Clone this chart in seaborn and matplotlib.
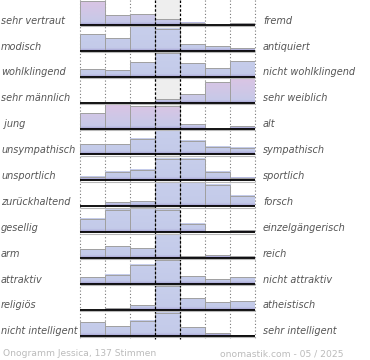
import numpy as np
import matplotlib
matplotlib.use("Agg")
import matplotlib.pyplot as plt
import seaborn as sns
from matplotlib.colors import to_rgb

sns.set_theme(style="white")
plt.rcParams['font.family'] = ['DejaVu Sans']

# ---------------- data ----------------
left_labels = ["sehr vertraut", "modisch", "wohlklingend", "sehr männlich", " jung",
               "unsympathisch", "unsportlich", "zurückhaltend", "gesellig", "arm",
               "attraktiv", "religiös", "nicht intelligent"]
right_labels = ["fremd", "antiquiert", "nicht wohlklingend", "sehr weiblich", "alt",
                "sympathisch", "sportlich", "forsch", "einzelgängerisch", "reich",
                "nicht attraktiv", "atheistisch", "sehr intelligent"]
bins = ["1", "2", "3", "4", "5", "6", "7"]

v_vertraut = [24.0, 10.0, 10.7, 6.0, 2.3, 0.0, 1.7]
v_modisch = [17.0, 12.6, 24.6, 22.3, 7.0, 4.6, 2.6]
v_wohlklingend = [8.0, 6.3, 15.0, 24.0, 14.0, 9.0, 15.6]
v_maennlich = [0.0, 0.0, 0.0, 4.0, 9.0, 21.0, 25.0]
v_jung = [15.7, 24.7, 22.3, 22.3, 4.7, 0.0, 3.0]
v_sympathisch = [10.0, 10.0, 15.7, 24.0, 13.3, 7.3, 6.3]
v_sportlich = [3.4, 8.4, 10.7, 21.4, 21.4, 8.4, 2.4]
v_forsch = [0.0, 4.0, 5.0, 24.0, 24.0, 21.3, 10.6]
v_gesellig = [13.3, 22.3, 25.0, 22.3, 8.3, 0.0, 2.0]
v_arm = [8.6, 12.0, 10.0, 23.6, 1.6, 2.6, 1.6]
v_attraktiv = [6.7, 9.3, 19.3, 24.3, 7.7, 5.0, 6.7]
v_religioes = [0.0, 1.7, 5.0, 23.4, 11.4, 8.0, 9.0]
v_intelligent = [13.4, 10.0, 15.0, 23.0, 9.0, 2.4, 1.0]

rows = [v_vertraut, v_modisch, v_wohlklingend, v_maennlich, v_jung, v_sympathisch,
        v_sportlich, v_forsch, v_gesellig, v_arm, v_attraktiv, v_religioes, v_intelligent]

footer_left = "Onogramm Jessica, 137 Stimmen"
footer_right = "onomastik.com - 05 / 2025"

# ---------------- style ----------------
W, H = 370, 360
X0, X1 = 80, 255
BASE0, ROWH = 25.0, 25.89
pink_rows = {0, 3, 4}
c_blue = np.array(to_rgb("#c3cae9"))
c_blue_top = np.array(to_rgb("#c8cfec"))
c_pink = np.array(to_rgb("#dcc4e4"))
c_purple = np.array(to_rgb("#a39cd0"))

fig = plt.figure(figsize=(W / 100, H / 100), dpi=100)
fig.patch.set_facecolor("white")

# background axes (pixel coords)
ax_bg = fig.add_axes([0, 0, 1, 1])
ax_bg.set_xlim(0, W)
ax_bg.set_ylim(H, 0)
ax_bg.axis("off")
last_base = BASE0 + ROWH * (len(rows) - 1)
ax_bg.add_patch(plt.Rectangle((155, 0), 25, last_base, color="#eeeeee", lw=0))
for xv in [80, 105, 130, 205, 230, 255]:
    ax_bg.plot([xv, xv], [0, last_base + 3], color="#777777", lw=0.8,
               linestyle=(0, (1, 2)))

# rows
for i, vals in enumerate(rows):
    base = BASE0 + ROWH * i
    ax = fig.add_axes([X0 / W, 1 - base / H, (X1 - X0) / W, ROWH / H])
    ax.patch.set_alpha(0)
    sns.barplot(x=bins, y=vals, ax=ax, width=1.0, color="#c3cae9",
                saturation=1, errorbar=None)
    for p in list(ax.patches):
        h = p.get_height()
        x0 = p.get_x()
        w = p.get_width()
        if h <= 0.05:
            p.set_visible(False)
            continue
        n = max(int(h * 6), 2)
        ys = np.linspace(h, 0, n)
        img = np.zeros((n, 1, 3))
        for k, yy in enumerate(ys):
            if i in pink_rows:
                t = min(yy / ROWH, 1.0)
                c = c_blue * (1 - t) + c_pink * t
            else:
                t = min(yy / ROWH, 1.0)
                c = c_blue * (1 - t) + c_blue_top * t
            if yy < 3.0:
                s = 1 - yy / 3.0
                c = c * (1 - s) + c_purple * s
            img[k, 0, :] = c
        ax.imshow(img, extent=[x0, x0 + w, 0, h], aspect="auto",
                  interpolation="bilinear", zorder=2)
        p.set_facecolor("none")
        p.set_edgecolor("#a0a0a0")
        p.set_linewidth(0.7)
        p.set_zorder(3)
    ax.set_xlim(-0.5, 6.5)
    ax.set_ylim(0, ROWH)
    ax.axis("off")

# overlay axes
ax_ov = fig.add_axes([0, 0, 1, 1])
ax_ov.patch.set_alpha(0)
ax_ov.set_xlim(0, W)
ax_ov.set_ylim(H, 0)
ax_ov.axis("off")
for xv in [155, 180]:
    ax_ov.plot([xv, xv], [0, last_base + 3], color="black", lw=0.9,
               linestyle=(0, (2, 1.5)))
for i in range(len(rows)):
    base = BASE0 + ROWH * i
    ax_ov.plot([X0, X1], [base + 1.4, base + 1.4], color="#b8b8b8", lw=0.8,
               solid_capstyle="butt")
    ax_ov.plot([X0, X1], [base, base], color="black", lw=1.3,
               solid_capstyle="butt")
    ax_ov.text(1, base - 1.3, left_labels[i], ha="left", va="baseline",
               fontsize=7, style="italic", color="#555555")
    ax_ov.text(263, base - 1.3, right_labels[i], ha="left", va="baseline",
               fontsize=7, style="italic", color="#555555")

ax_ov.text(3, 356.5, footer_left, ha="left", va="baseline", fontsize=6.6,
           color="#bbbbbb")
ax_ov.text(220, 356.5, footer_right, ha="left", va="baseline", fontsize=6.6,
           color="#bbbbbb")

fig.savefig("out.png", dpi=100, facecolor="white")
